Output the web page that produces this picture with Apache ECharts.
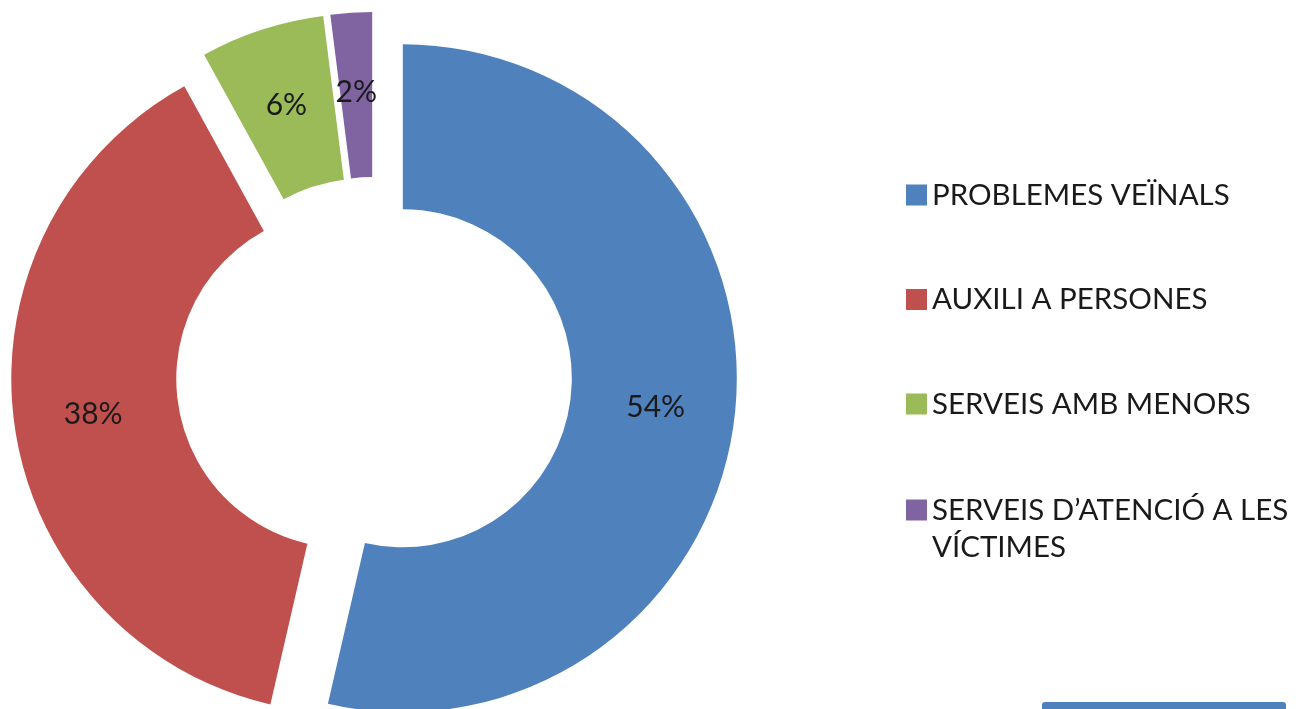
<!DOCTYPE html>
<html>
<head>
<meta charset="utf-8">
<script src="https://cdn.jsdelivr.net/npm/echarts@6/dist/echarts.min.js"></script>
<style>
html, body { margin: 0; padding: 0; background: #fff; }
#myChart { width: 1299px; height: 709px; }
</style>
</head>
<body>
<div id="myChart"></div>
<script>
// dades (percentatges llegits del gràfic)
let categories = ['PROBLEMES VEÏNALS', 'AUXILI A PERSONES', 'SERVEIS AMB MENORS', 'SERVEIS D\u2019ATENCIÓ A LES VÍCTIMES']
let values = [53.6, 38.4, 6, 2]
let colors = ['#4F81BD', '#C0504D', '#9BBB59', '#8064A2']

let myChart = echarts.init(document.getElementById('myChart'))

let legendText = {
    fontFamily: 'Lato',
    fontSize: 29.5,
    color: '#1a1a1a'
}

let option = {
    animation: false,
    textStyle: { fontFamily: 'Lato' },
    legend: [
        {
            // tres primeres
            orient: 'vertical',
            left: 906,
            top: 180,
            padding: 0,
            itemWidth: 21,
            itemHeight: 21,
            itemGap: 74.5,
            icon: 'rect',
            selectedMode: false,
            textStyle: Object.assign({ lineHeight: 30 }, legendText),
            data: categories.slice(0, 3)
        },
        {
            // la darrera ocupa dues línies
            orient: 'vertical',
            left: 906,
            top: 454.5,
            padding: 0,
            itemWidth: 21,
            itemHeight: 21,
            icon: 'rect',
            selectedMode: false,
            formatter: function (name) {
                return '\n' + name.replace('A LES ', 'A LES\n')
            },
            textStyle: Object.assign({ lineHeight: 37 }, legendText),
            data: categories.slice(3)
        }
    ],
    series: [
        {
            type: 'pie',
            center: [374, 375],
            radius: [169, 334],
            startAngle: 90,
            clockwise: true,
            selectedMode: 'multiple',
            selectedOffset: 29,
            avoidLabelOverlap: false,
            label: {
                show: true,
                position: 'inside',
                formatter: function (p) {
                    return Math.round(p.percent) + '%'
                },
                fontFamily: 'Lato',
                fontSize: 30,
                color: '#1a1a1a'
            },
            labelLine: { show: false },
            emphasis: { disabled: true },
            select: { itemStyle: { borderWidth: 0 } },
            data: categories.map(function (c, i) {
                return {
                    name: c,
                    value: values[i],
                    selected: true,
                    itemStyle: { color: colors[i] },
                    select: { itemStyle: { color: colors[i] } }
                }
            })
        }
    ],
    graphic: [
        {
            type: 'rect',
            left: 1042,
            top: 702,
            shape: { width: 244, height: 10, r: [3, 3, 0, 0] },
            style: { fill: '#4F81BD' }
        }
    ]
}
myChart.setOption(option)
</script>
</body>
</html>
